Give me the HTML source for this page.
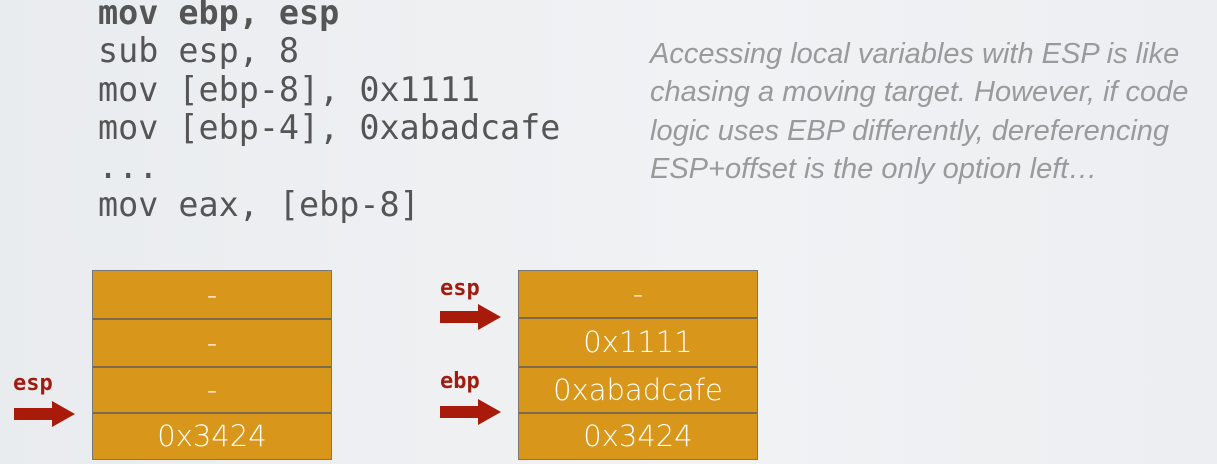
<!DOCTYPE html>
<html><head><meta charset="utf-8"><style>
body{margin:0;width:1217px;height:464px;background:linear-gradient(90deg,#e9ecef,#f1f2f4 60%,#eceef1);position:relative;overflow:hidden}
.code{position:absolute;left:98px;top:-6px;font-family:"DejaVu Sans Mono",monospace;font-size:33.4px;line-height:38.4px;color:#555;white-space:pre;margin:0}
.it{position:absolute;left:650px;top:35px;font-family:"Liberation Sans",sans-serif;font-style:italic;font-size:29px;line-height:38.4px;color:#9a9a9a;white-space:pre}
.stack{position:absolute;width:238px;border:1px solid #777;background:#d8961a}
.row{position:absolute;left:0;width:238px;border-top:2px solid #7a6a4a;color:#fff;font-family:"DejaVu Sans","Liberation Sans",sans-serif;font-weight:200;font-size:29px;text-align:center;box-sizing:border-box}
.lab{position:absolute;font-family:"DejaVu Sans Mono",monospace;font-weight:bold;font-size:22px;color:#a01c10}
</style></head><body>
<pre class="code"><b>mov ebp, esp</b>
sub esp, 8
mov [ebp-8], 0x1111
mov [ebp-4], 0xabadcafe
...
mov eax, [ebp-8]</pre>
<div class="it">Accessing local variables with ESP is like
chasing a moving target. However, if code
logic uses EBP differently, dereferencing
ESP+offset is the only option left…</div>

<div class="stack" style="left:92px;top:270px;height:188px">
<div class="row" style="top:0;height:48px;border-top:none;line-height:48px">-</div>
<div class="row" style="top:47px;height:48px;line-height:46px">-</div>
<div class="row" style="top:95px;height:47px;line-height:45px">-</div>
<div class="row" style="top:141px;height:47px;line-height:45px">0x3424</div>
</div>
<div class="stack" style="left:518px;top:270px;height:188px">
<div class="row" style="top:0;height:47px;border-top:none;line-height:47px">-</div>
<div class="row" style="top:46px;height:49px;line-height:47px">0x1111</div>
<div class="row" style="top:95px;height:47px;line-height:45px">0xabadcafe</div>
<div class="row" style="top:141px;height:47px;line-height:45px">0x3424</div>
</div>

<div class="lab" style="left:13px;top:371px">esp</div>
<div class="lab" style="left:440px;top:276px">esp</div>
<div class="lab" style="left:440px;top:369px">ebp</div>
<svg width="1217" height="464" style="position:absolute;left:0;top:0">
<g fill="#a81a0a">
<polygon points="14,408 52,408 52,401 75,414 52,427 52,420 14,420"/>
<polygon points="440,311 478,311 478,304 501,317 478,330 478,323 440,323"/>
<polygon points="440,406 478,406 478,399 501,412 478,425 478,418 440,418"/>
</g></svg>
</body></html>
